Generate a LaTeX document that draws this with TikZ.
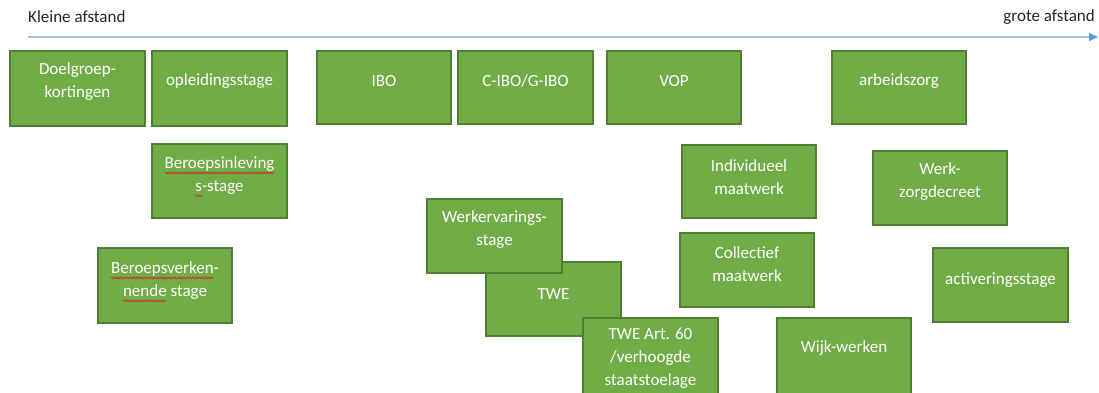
\documentclass[tikz,border=0pt]{standalone}
\usepackage{fontspec}
\setmainfont{Carlito}
\usetikzlibrary{arrows.meta,decorations.pathmorphing}
\definecolor{boxfill}{HTML}{70AD47}
\definecolor{boxborder}{HTML}{507E32}
\definecolor{axisline}{HTML}{9DC3E6}
\definecolor{axistip}{HTML}{5B9BD5}
\definecolor{spellred}{HTML}{E02020}
\newlength\wavelen
\newcommand\redwave[1]{\settowidth\wavelen{#1}\leavevmode\rlap{\tikz[baseline=0pt,x=1pt,y=1pt]{\useasboundingbox (0,0); \draw[spellred,line width=0.7pt,decorate,decoration={snake,amplitude=0.9pt,segment length=3pt}] (0,-4) -- (\wavelen,-4);}}#1}
\tikzset{
  box/.style={draw=boxborder, fill=boxfill, line width=1.1pt, inner sep=0pt},
  lbl/.style={text=white, align=center, inner sep=0pt, font=\fontsize{17}{23}\selectfont},
  axislbl/.style={text=black!85, inner sep=0pt, font=\fontsize{17}{20}\selectfont},
}
\newcommand\mybox[7]{%
  % #1 name, #2 left, #3 top, #4 right, #5 bottom, #6 text, #7 text centre y
  \path[box] (#2,#3) rectangle (#4,#5);
  \node[inner sep=0pt, minimum width={(#4-#2)*1pt}, minimum height={(#5-#3)*1pt}] (#1) at ({(#2+#4)/2},{(#3+#5)/2}) {};
  \node[lbl] (#1t) at ({(#2+#4)/2},#7) {#6};
}
\begin{document}
\begin{tikzpicture}[x=1pt,y=-1pt]
\useasboundingbox (0,0) rectangle (1099,392);
\clip (0,0) rectangle (1099,392);
% axis
\coordinate (axl) at (28,37);
\coordinate (axr) at (1098,37);
\draw[axisline, line width=1.2pt, -{Triangle[length=9pt,width=8pt,fill=axistip,color=axistip]}] (axl) -- (axr);
\node[axislbl, anchor=west] (klein) at (28,17) {Kleine afstand};
\node[axislbl, anchor=east] (groot) at (1095,17) {grote afstand};
% boxes
\mybox{dg}{10}{51}{145}{126}{Doelgroep-\\kortingen}{82}
\mybox{op}{152}{51}{287}{126}{opleidingsstage}{81}
\mybox{ibo}{317}{51}{451}{124}{IBO}{81}
\mybox{cibo}{458}{51}{593}{124}{C-IBO/G-IBO}{81}
\mybox{vop}{607}{51}{741}{124}{VOP}{81}
\mybox{az}{832}{51}{966}{124}{arbeidszorg}{81}
\mybox{bi}{152}{144}{287}{218}{\redwave{Beroepsinleving}\\\redwave{s}-stage}{176}
\mybox{im}{682}{145}{816}{218}{Individueel\\maatwerk}{177}
\mybox{wz}{873}{151}{1007}{225}{Werk-\\zorgdecreet}{182}
\mybox{bv}{98}{248}{232}{323}{\redwave{Beroepsverken}-\\\redwave{nende} stage}{281}
\mybox{cm}{680}{233}{814}{307}{Collectief\\maatwerk}{264}
\mybox{ac}{933}{248}{1068}{322}{activeringsstage}{280}
\mybox{twe}{486}{262}{621}{336}{TWE}{294}
\mybox{we}{427}{199}{562}{273}{Werkervarings-\\stage}{230}
\mybox{twa}{583}{318}{718}{410}{TWE Art. 60\\/verhoogde\\staatstoelage}{358}
\mybox{ww}{777}{318}{911}{410}{Wijk-werken}{348}
\end{tikzpicture}
\end{document}
